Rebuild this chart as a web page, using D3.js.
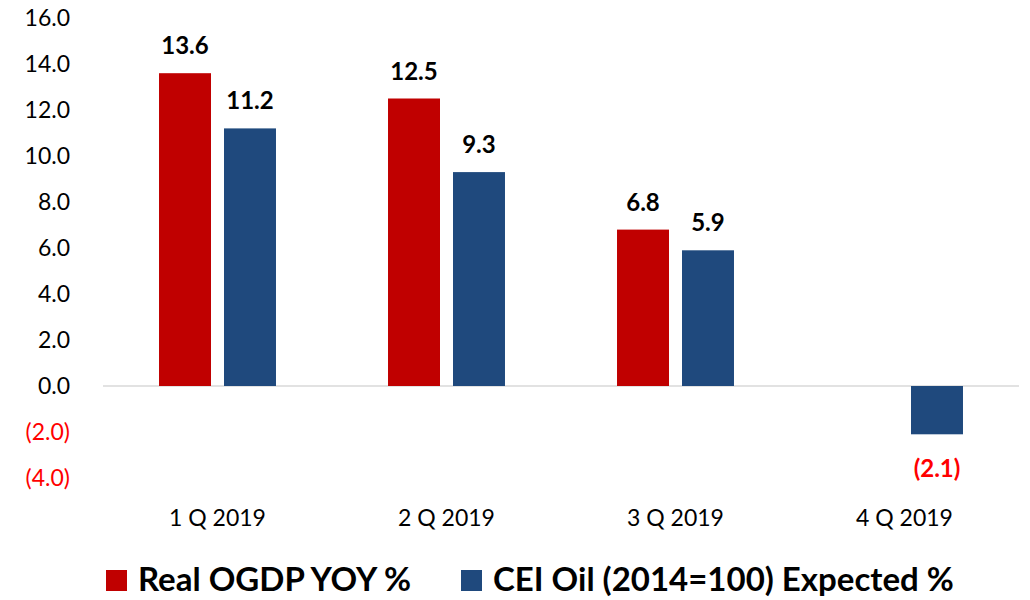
<!DOCTYPE html>
<html>
<head>
<meta charset="utf-8">
<script src="https://cdn.jsdelivr.net/npm/d3@7"></script>
<style>
  body { margin: 0; background: #fff; }
  text { font-family: Lato, "Open Sans", sans-serif; }
</style>
</head>
<body>
<svg width="1030" height="600"></svg>
<script>
// data
const quarters = ["1 Q 2019", "2 Q 2019", "3 Q 2019", "4 Q 2019"];
const seriesNames = ["Real OGDP YOY %", "CEI Oil (2014=100) Expected %"];
const ogdp = [13.6, 12.5, 6.8, null];
const ceiOil = [11.2, 9.3, 5.9, -2.1];
const yTicks = [-4, -2, 0, 2, 4, 6, 8, 10, 12, 14, 16];
const colors = ["#c00000", "#1f497d"];

const width = 1030;
const height = 600;
const margin = { top: 18, right: 11, bottom: 122, left: 103 };

const svg = d3.select("svg");

const fmt = v => v < 0 ? `(${Math.abs(v).toFixed(1)})` : v.toFixed(1);

const x = d3.scaleBand()
    .domain(quarters)
    .range([margin.left, width - margin.right]);

const xInner = d3.scaleBand()
    .domain([0, 1])
    .range([0, x.bandwidth()])
    .paddingInner(0.2)
    .paddingOuter(0.862);

const y = d3.scaleLinear()
    .domain([-4, 16])
    .range([height - margin.bottom, margin.top]);

// y axis labels only
const yAxis = svg.append("g")
    .attr("transform", `translate(${margin.left}, 0)`)
    .call(d3.axisLeft(y).tickValues(yTicks).tickFormat(fmt).tickSize(0).tickPadding(33));
yAxis.select(".domain").remove();
yAxis.selectAll("text")
    .style("font-size", "23px")
    .attr("fill", d => d < 0 ? "#ff0000" : "#000");

// zero line
svg.append("line")
    .attr("x1", margin.left)
    .attr("x2", width - margin.right)
    .attr("y1", y(0))
    .attr("y2", y(0))
    .attr("stroke", "#d9d9d9")
    .attr("stroke-width", 1.5);

// bars
const rows = quarters.map((q, i) => ({ q, vals: [ogdp[i], ceiOil[i]] }));

const groups = svg.selectAll("g.cat")
    .data(rows)
    .enter()
    .append("g")
    .attr("class", "cat")
    .attr("transform", d => `translate(${x(d.q)}, 0)`);

const cells = groups.selectAll("g.bar")
    .data(d => d.vals.map((v, k) => ({ v, k })).filter(e => e.v !== null))
    .enter()
    .append("g")
    .attr("class", "bar");

cells.append("rect")
    .attr("x", d => xInner(d.k))
    .attr("width", xInner.bandwidth())
    .attr("y", d => y(Math.max(0, d.v)))
    .attr("height", d => Math.abs(y(d.v) - y(0)))
    .attr("fill", d => colors[d.k]);

cells.append("text")
    .attr("x", d => xInner(d.k) + xInner.bandwidth() / 2)
    .attr("y", d => d.v >= 0 ? y(d.v) - 19 : y(d.v) + 43)
    .attr("text-anchor", "middle")
    .style("font-size", "24px")
    .style("font-weight", "bold")
    .attr("fill", d => d.v < 0 ? "#ff0000" : "#000")
    .text(d => fmt(d.v));

// category labels
const xAxis = svg.append("g")
    .attr("transform", `translate(0, ${y(-4)})`)
    .call(d3.axisBottom(x).tickSize(0).tickPadding(32));
xAxis.select(".domain").remove();
xAxis.selectAll("text")
    .style("font-size", "23px")
    .attr("fill", "#000");

// legend
const legendX = [106, 461];
const legend = svg.selectAll("g.legend")
    .data(seriesNames)
    .enter()
    .append("g")
    .attr("class", "legend")
    .attr("transform", (d, i) => `translate(${legendX[i]}, 580)`);

legend.append("rect")
    .attr("x", 0)
    .attr("y", -10)
    .attr("width", 21)
    .attr("height", 21)
    .attr("fill", (d, i) => colors[i]);

legend.append("text")
    .attr("x", 32)
    .attr("y", 11)
    .style("font-size", "33px")
    .style("font-weight", "bold")
    .attr("fill", "#000")
    .text(d => d);
</script>
</body>
</html>
